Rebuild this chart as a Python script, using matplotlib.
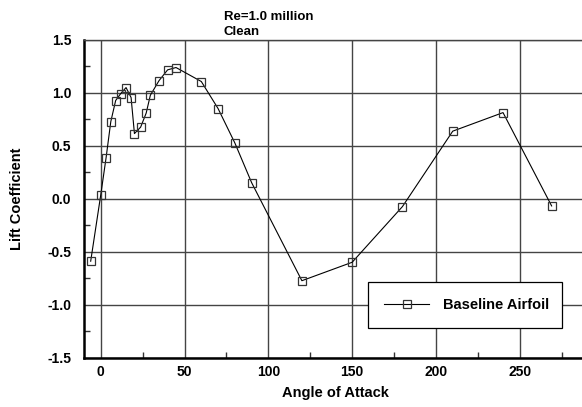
import matplotlib
matplotlib.use("Agg")
import matplotlib.pyplot as plt
from matplotlib.ticker import MultipleLocator

angle = [-6, 0, 3.2, 6, 8.9, 11.9, 15.1, 18.1, 20.1, 23.8, 27.1, 29.6, 34.8, 39.9, 44.9,
         60, 70, 80, 90, 120, 150, 180, 210, 240, 269]
lift = [-0.59, 0.035, 0.387, 0.726, 0.925, 0.99, 1.047, 0.953, 0.613, 0.674, 0.806, 0.975,
        1.113, 1.214, 1.236, 1.104, 0.849, 0.525, 0.151, -0.774, -0.6, -0.075, 0.636, 0.811, -0.069]
xticks = [0, 50, 100, 150, 200, 250]
yticks = [-1.5, -1.0, -0.5, 0.0, 0.5, 1.0, 1.5]

plt.rcParams['font.family'] = ['Liberation Sans', 'DejaVu Sans']
fig = plt.figure(figsize=(5.82, 4.07), dpi=100)
ax = fig.add_axes([0.1443, 0.1211, 0.864, 0.7818])

ax.plot(angle, lift, color='black', lw=0.8, marker='s', ms=5.6, mfc='none',
        mec='#333333', mew=0.9, label='Baseline Airfoil', zorder=3)

ax.set_xlim(-10, 290)
ax.set_ylim(-1.5, 1.5)
ax.set_xticks(xticks)
ax.set_yticks(yticks)
ax.set_yticklabels([f"{v:.1f}" for v in yticks])
ax.xaxis.set_minor_locator(MultipleLocator(25))
ax.yaxis.set_minor_locator(MultipleLocator(0.25))
ax.tick_params(which='major', length=0, labelsize=10)
ax.tick_params(axis='y', which='major', pad=9)
ax.tick_params(axis='x', which='major', pad=5)
ax.tick_params(which='minor', direction='in', length=4, width=1, color='#333333')
for lab in ax.get_xticklabels() + ax.get_yticklabels():
    lab.set_fontweight('bold')

ax.grid(True, which='major', color='#444444', lw=1.0)
ax.set_axisbelow(True)
ax.spines['right'].set_visible(False)
ax.spines['top'].set_color('#444444')
ax.spines['top'].set_linewidth(1.0)
ax.spines['left'].set_linewidth(1.8)
ax.spines['bottom'].set_linewidth(1.8)

ax.set_xlabel('Angle of Attack', fontsize=10.5, fontweight='bold', labelpad=5)
ax.set_ylabel('Lift Coefficient', fontsize=10.5, fontweight='bold', labelpad=17)

fig.text(224/582, 1-17/407, 'Re=1.0 million', fontsize=9.5, fontweight='bold', va='center', ha='left')
fig.text(224/582, 1-32/407, 'Clean', fontsize=9.5, fontweight='bold', va='center', ha='left')

leg = ax.legend(loc='lower left', bbox_to_anchor=(0.5646, 0.0933, 0.3857, 0.1445), mode='expand',
                borderaxespad=0, borderpad=1.1, handlelength=3.1, handletextpad=0.95,
                prop={'weight': 'bold', 'size': 10.5}, fancybox=False, framealpha=1,
                edgecolor='black')
leg.get_frame().set_linewidth(0.9)

fig.savefig('out.png', dpi=100)
